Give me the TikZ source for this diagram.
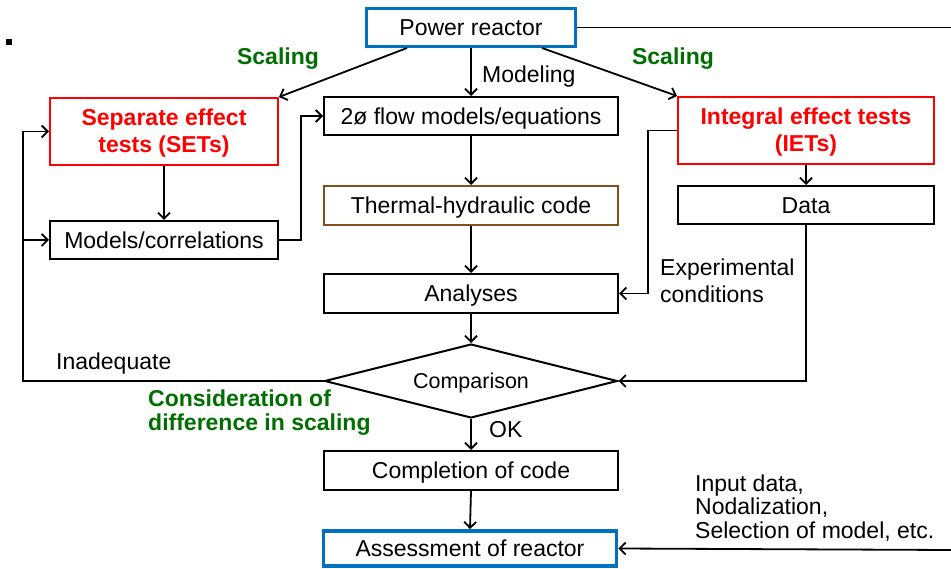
\documentclass[tikz,border=0pt]{standalone}
\usepackage{fontspec}
\setmainfont{Liberation Sans}
\usetikzlibrary{arrows.meta,shapes.geometric}
\definecolor{reactorblue}{RGB}{0,112,192}
\definecolor{testred}{RGB}{255,0,0}
\definecolor{scalegreen}{RGB}{0,110,0}
\definecolor{codebrown}{RGB}{128,80,30}
\newcommand{\txt}{\fontsize{23}{27}\selectfont}
\begin{document}
\begin{tikzpicture}[x=1pt,y=-1pt,
  box/.style={draw, line width=2pt, inner sep=0pt, align=center, font=\txt,
              text height=16.5pt, text depth=0pt},
  bluebox/.style={box, draw=reactorblue, line width=3.8pt},
  redbox/.style={draw=testred, line width=2pt, inner sep=0pt},
  redtext/.style={text=testred, font=\txt\bfseries, align=center, inner sep=0pt, yshift=-2pt},
  brownbox/.style={box, draw=codebrown},
  conn/.style={line width=1.8pt, -{Straight Barb[length=6pt,width=12pt,line width=1.8pt]}},
  plain/.style={line width=1.8pt},
  lbl/.style={inner sep=0pt, font=\txt, align=left},
  glbl/.style={inner sep=0pt, font=\txt\bfseries, text=scalegreen, align=left}]
\useasboundingbox (0,0) rectangle (951,569);

% bullet mark
\fill (6,39) rectangle (12,45);

% boxes
\node[bluebox, minimum width=209pt, minimum height=38pt] (pr) at (471,27.5) {Power reactor};
\node[redbox, minimum width=228pt, minimum height=67pt,
      label={[redtext]center:Separate effect\\tests (SETs)}] (sets) at (164,131.5) {};
\node[box, minimum width=294pt, minimum height=38pt] (flow) at (471,116) {2ø flow models/equations};
\node[redbox, minimum width=256pt, minimum height=67pt,
      label={[redtext]center:Integral effect tests\\(IETs)}] (iets) at (806,130.5) {};
\node[brownbox, minimum width=294pt, minimum height=39pt] (th) at (471,205.5) {Thermal-hydraulic code};
\node[box, minimum width=256pt, minimum height=38pt] (data) at (806,205) {Data};
\node[box, minimum width=228pt, minimum height=38pt] (mc) at (164,240) {Models/correlations};
\node[box, minimum width=294pt, minimum height=39pt] (an) at (471,293.5) {Analyses};
\node[draw, diamond, line width=2pt, minimum width=293pt, minimum height=74pt, aspect=4,
      inner sep=0pt, font=\fontsize{21.5}{26}\selectfont, text height=15.5pt, text depth=0pt] (cmp) at (471,381) {Comparison};
\node[box, minimum width=294pt, minimum height=39pt] (comp) at (471,470.5) {Completion of code};
\node[bluebox, minimum width=293pt, minimum height=35pt] (ass) at (470,548.5) {Assessment of reactor};

% free ends at the picture edge
\coordinate (edgeTop) at (951,27.5);
\coordinate (edgeBot) at (951,550);

% connectors
\draw[plain] (pr.east) -- (edgeTop);
\draw[conn] (407,48) -- (sets.north east);
\draw[conn] (pr.south) -- (flow.north);
\draw[conn] (542,48) -- (iets.north west);
\draw[conn] (sets.south) -- (mc.north);
\draw[conn] (mc.east) -- (301,240) |- (flow.west);
\draw[conn] (flow.south) -- (th.north);
\draw[conn] (th.south) -- (an.north);
\draw[conn] (an.south) -- (cmp.north);
\draw[conn] (iets.west) -- (648,130.5) |- (an.east);
\draw[conn] (iets.south) -- (data.north);
\draw[conn] (data.south) |- (cmp.east);
\draw[conn] (cmp.west) -- (23,381) |- (sets.west);
\draw[conn] (23,240) -- (mc.west);
\draw[conn] (cmp.south) -- (comp.north);
\draw[conn] (comp.south) -- (ass.north);
\draw[conn] (edgeBot) -- (ass.east);

% labels
\node[glbl, anchor=center] (sc1) at (278,59) {Scaling};
\node[glbl, anchor=center] (sc2) at (673,59) {Scaling};
\node[lbl, anchor=west] (mod) at (482,77) {Modeling};
\node[lbl, anchor=north west] (exp) at (660,258.5) {Experimental\\conditions};
\node[lbl, anchor=west] (inad) at (56,364) {Inadequate};
\node[glbl, anchor=north west, font=\fontsize{23}{24}\selectfont\bfseries] (cons) at (148,390) {Consideration of\\difference in scaling};
\node[lbl, anchor=west] (ok) at (489,430) {OK};
\node[lbl, anchor=north west, font=\fontsize{23}{23.5}\selectfont] (inp) at (695,474.5) {Input data,\\Nodalization,\\Selection of model, etc.};
\end{tikzpicture}
\end{document}
